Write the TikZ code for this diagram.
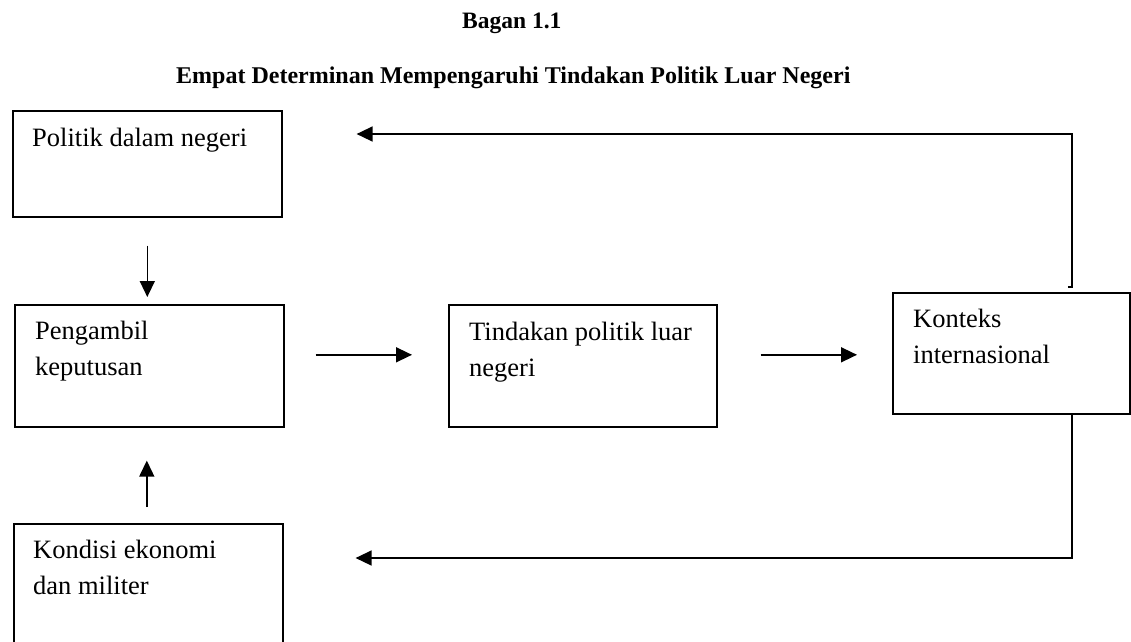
\documentclass[tikz,border=0pt]{standalone}
\usepackage{fontspec}
\setmainfont{Liberation Serif}
\usetikzlibrary{arrows.meta,calc}
\tikzset{
  box/.style={draw, line width=1.6pt, rectangle, anchor=north west, inner sep=0pt},
  boxtext/.style={anchor=base west, inner sep=0pt, font=\fontsize{26.5}{36}\selectfont},
  titletext/.style={anchor=base west, inner sep=0pt, font=\bfseries\fontsize{23.5}{28}\selectfont},
  arr/.style={line width=1.5pt, -{Triangle[length=16pt,width=15pt]}}
}
\begin{document}
\begin{tikzpicture}[x=1pt,y=-1pt]
\useasboundingbox (0,0) rectangle (1131,641);
\clip (0,0) rectangle (1131,641);
% titles
\node[titletext] (t1) at (462,28) {Bagan 1.1};
\node[titletext, font=\bfseries\fontsize{24}{28}\selectfont] (t2) at (176,83) {Empat Determinan Mempengaruhi Tindakan Politik Luar Negeri};
% boxes
\node[box, minimum width=269pt, minimum height=106pt] (b1) at (12,110) {};
\node[box, minimum width=269pt, minimum height=122pt] (b2) at (14,304) {};
\node[box, minimum width=268pt, minimum height=122pt] (b3) at (448,304) {};
\node[box, minimum width=237pt, minimum height=121pt] (b4) at (892,292) {};
\node[box, minimum width=269pt, minimum height=150pt] (b5) at (13,523) {};
% texts
\node[boxtext] (x1) at (32,146) {Politik dalam negeri};
\node[boxtext] (x2) at (35,339) {\begin{tabular}[t]{@{}l@{}}Pengambil\\keputusan\end{tabular}};
\node[boxtext] (x3) at (469,340) {\begin{tabular}[t]{@{}l@{}}Tindakan politik luar\\negeri\end{tabular}};
\node[boxtext] (x4) at (913,327) {\begin{tabular}[t]{@{}l@{}}Konteks\\internasional\end{tabular}};
\node[boxtext] (x5) at (33,558) {\begin{tabular}[t]{@{}l@{}}Kondisi ekonomi\\dan militer\end{tabular}};
% connectors
\draw[arr] ($(b1.south)+(0,28)$) -- ($(b1.south |- b2.north)+(0,-7)$);
\draw[arr] ($(b5.north)+(-1.5,-16)$) -- ($(b5.north |- b2.south)+(-1.5,33)$);
\draw[arr] ($(b2.east)+(31,-11)$) -- ($(b3.west)+(-36,-11)$);
\draw[arr] ($(b3.east)+(43,-11)$) -- ($(b3.east -| b4.west)+(-35,-11)$);
\draw[arr] ($(b4.north)+(56.5,-5)$) -- ++(4,0) |- ($(b1.north east)+(74,24)$);
\draw[arr] ($(b4.south)+(60.5,0)$) |- ($(b5.north east)+(72,35)$);
\end{tikzpicture}
\end{document}
